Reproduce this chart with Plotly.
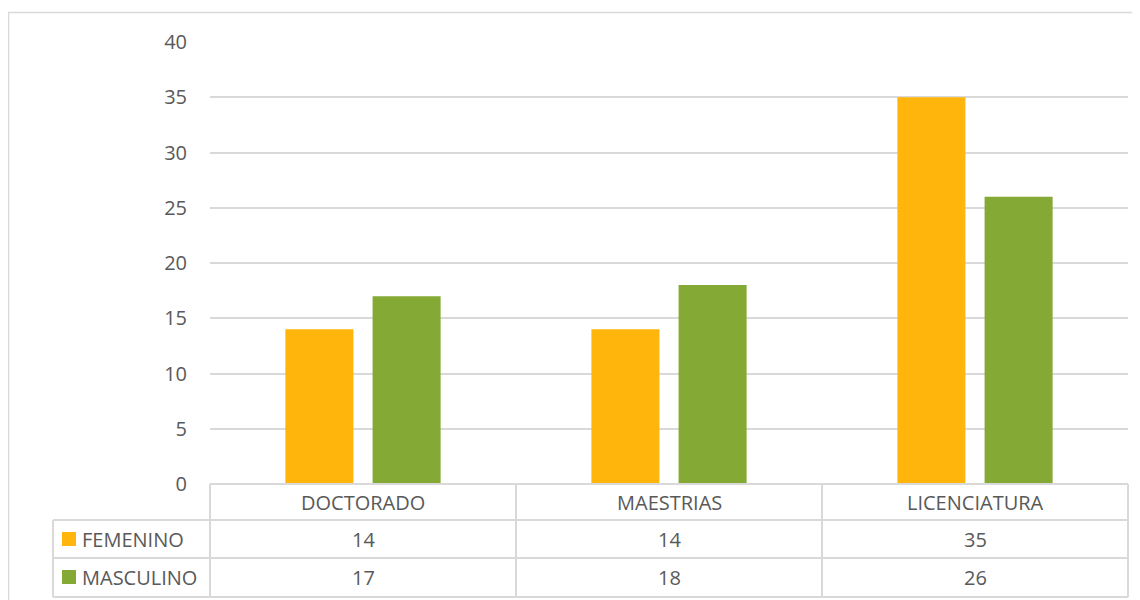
import plotly.graph_objects as go

categories = ["DOCTORADO", "MAESTRIAS", "LICENCIATURA"]
series_names = ["FEMENINO", "MASCULINO"]
femenino = [14, 14, 35]
masculino = [17, 18, 26]
series_values = [femenino, masculino]
colors = ["#FFB50B", "#85A935"]
y_ticks = [0, 5, 10, 15, 20, 25, 30, 35, 40]

OFF = 8  # page body margin
W, H = 1140 - OFF, 600 - OFF
L, R, T, B = 210 - OFF, 1128 - OFF, 42 - OFF, 484 - OFF
FONT = "Open Sans"
TXT = "#595959"
GRID = "#D9D9D9"
FS = 20


def px(x):
    return (x - OFF - L) / (R - L)


def py(y):
    return (B - (y - OFF)) / (B - T)


fig = go.Figure()
for name, vals, c in zip(series_names, series_values, colors):
    fig.add_trace(go.Bar(x=categories, y=vals, name=name, marker=dict(color=c, line=dict(width=0)),
                         showlegend=False))

shapes = []
# outer chart border
shapes.append(dict(type="rect", xref="paper", yref="paper", x0=px(8.5), x1=px(1160), y0=py(620), y1=py(12.5),
                   line=dict(color=GRID, width=1.5), layer="below"))
line = dict(color=GRID, width=2)
# table horizontal lines
shapes.append(dict(type="line", xref="paper", yref="paper", x0=px(210), x1=px(1128), y0=py(484), y1=py(484), line=line))
for yy in [520, 558, 597]:
    shapes.append(dict(type="line", xref="paper", yref="paper", x0=px(53), x1=px(1128), y0=py(yy), y1=py(yy), line=line))
# vertical lines
n = len(categories)
for i in range(n + 1):
    xx = 210 + (1128 - 210) * i / n
    shapes.append(dict(type="line", xref="paper", yref="paper", x0=px(xx), x1=px(xx), y0=py(484), y1=py(597), line=line))
shapes.append(dict(type="line", xref="paper", yref="paper", x0=px(53), x1=px(53), y0=py(520), y1=py(597), line=line))

annotations = []
for cat in categories:
    annotations.append(dict(x=cat, y=py(502), xref="x", yref="paper", text=cat, showarrow=False,
                            font=dict(family=FONT, size=FS, color=TXT), xanchor="center", yanchor="middle"))
row_centers = [539, 577]
for name, vals, c, rc in zip(series_names, series_values, colors, row_centers):
    shapes.append(dict(type="rect", xref="paper", yref="paper", x0=px(62), x1=px(76), y0=py(rc + 7), y1=py(rc - 7),
                       fillcolor=c, line=dict(width=0)))
    annotations.append(dict(x=px(80), y=py(rc), xref="paper", yref="paper", text=name, showarrow=False,
                            font=dict(family=FONT, size=FS, color=TXT), xanchor="left", yanchor="middle"))
    for cat, v in zip(categories, vals):
        annotations.append(dict(x=cat, y=py(rc), xref="x", yref="paper", text=str(v), showarrow=False,
                                font=dict(family=FONT, size=FS, color=TXT), xanchor="center", yanchor="middle"))

fig.update_layout(
    width=W, height=H,
    margin=dict(l=L, r=W - R, t=T, b=H - B, pad=0),
    paper_bgcolor="white", plot_bgcolor="white",
    barmode="group", bargap=0.43, bargroupgap=0.22,
    shapes=shapes, annotations=annotations,
    xaxis=dict(showticklabels=False, showgrid=False, zeroline=False, showline=False, ticks=""),
    yaxis=dict(range=[0, 40], tickvals=y_ticks, showgrid=True, gridcolor=GRID, gridwidth=1.5,
               zeroline=False, showline=False, ticks="", ticklabelstandoff=22,
               tickfont=dict(family=FONT, size=FS, color=TXT)),
    font=dict(family=FONT, color=TXT),
)
fig.write_html("out.html")
